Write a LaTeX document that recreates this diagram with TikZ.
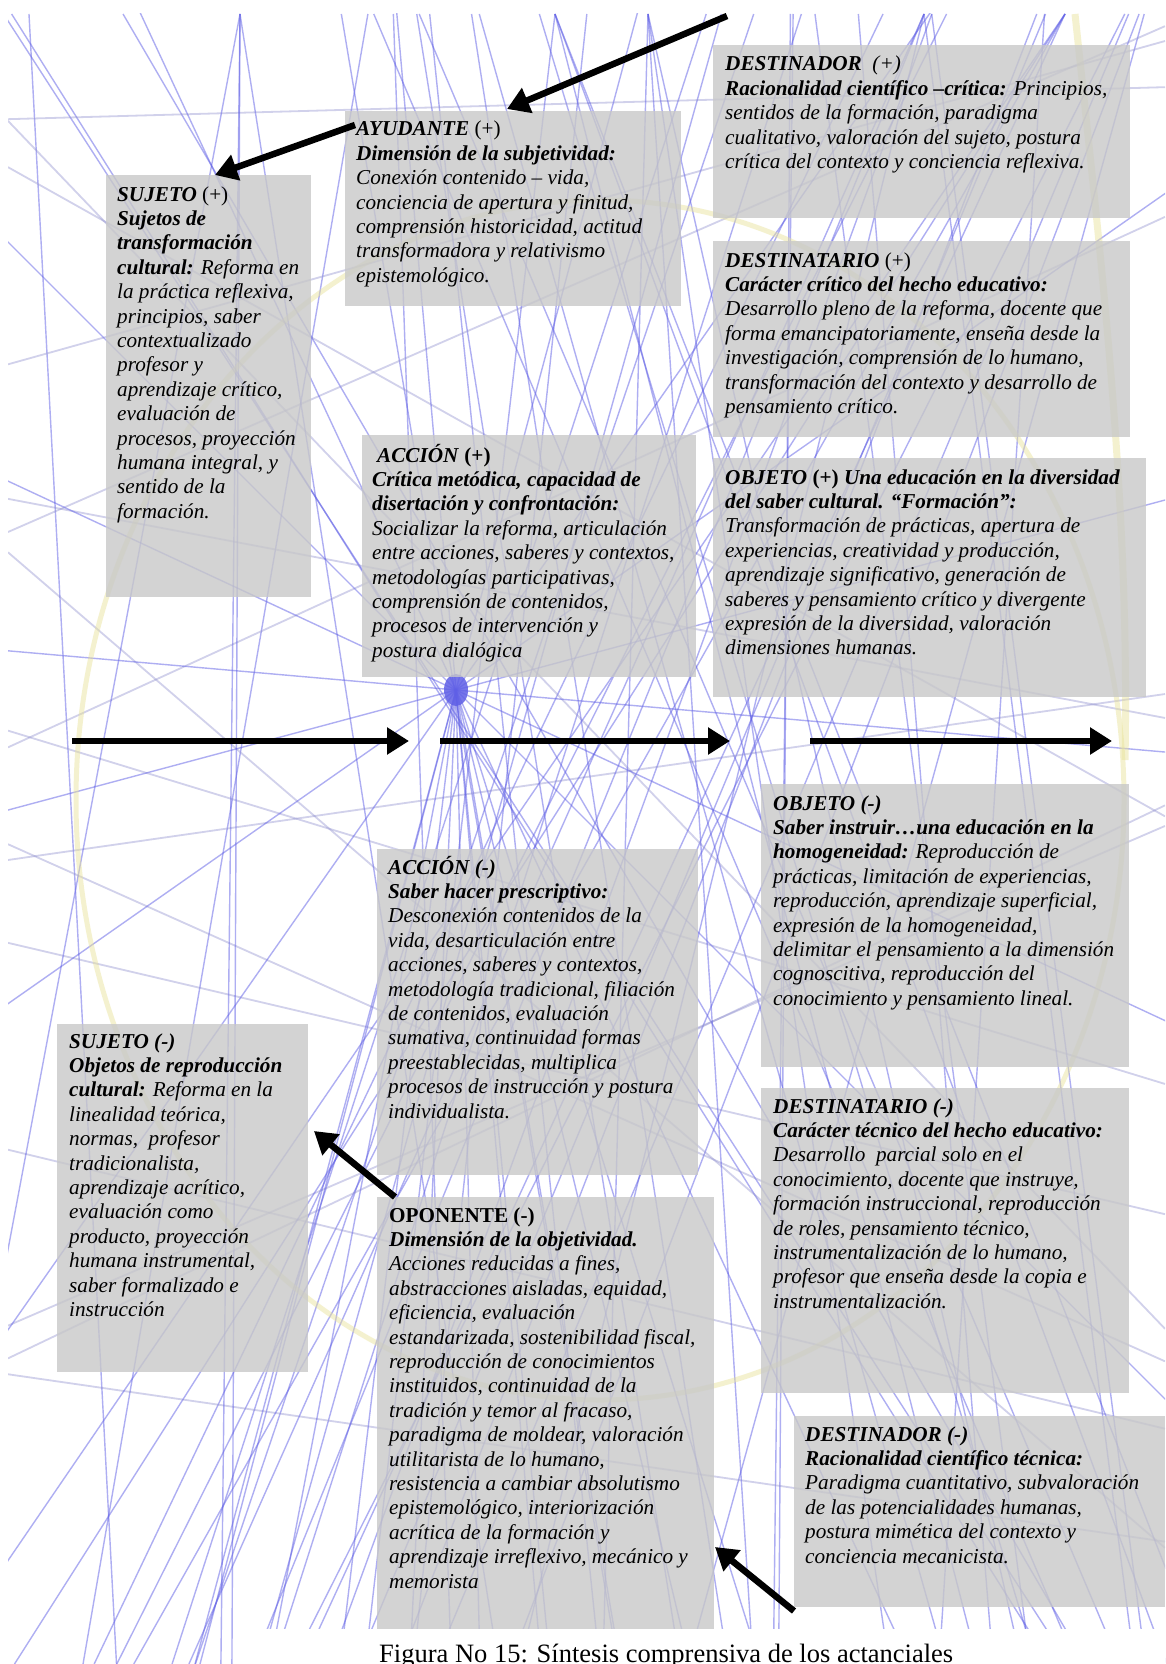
\documentclass[tikz,border=0pt]{standalone}
\usepackage{fontspec}
\setmainfont{Liberation Serif}
\usetikzlibrary{arrows.meta,calc}
\definecolor{webblue}{RGB}{95,95,230}
\definecolor{webgray}{RGB}{140,140,205}
\definecolor{boxgray}{RGB}{200,200,200}
\definecolor{halo}{RGB}{232,226,150}
\newcommand{\bi}[1]{\textbf{\textit{#1}}}
% stacked lines whose reference point is the first baseline
\newcommand{\stackedlines}[1]{\begin{tabular}[t]{@{}l@{}}#1\end{tabular}}

\begin{document}
\begin{tikzpicture}[x=1pt,y=-1pt,
  web/.style={webblue, line width=1.4pt, opacity=0.5},
  webfaint/.style={webgray, line width=1.8pt, opacity=0.4},
  panel/.style={fill=boxgray, fill opacity=0.8, draw=none, inner sep=0pt, anchor=north west},
  boxtext/.style={anchor=base west, inner sep=0pt,
    font=\fontsize{21.2}{24.4}\selectfont\itshape, text=black},
  bigarrow/.style={line width=6.5pt, -{Triangle[length=22pt,width=26pt]}},
]
\useasboundingbox (0,0) rectangle (1165,1664);
\fill[white] (0,0) rectangle (1165,1664);

% background web of thin lines
\begin{scope}
  \clip (8,14) rectangle (1165,1664);
  \pgfmathsetseed{4711}
  \foreach \i in {1,...,34}{
    \pgfmathsetmacro{\ax}{rnd*1165}
    \pgfmathsetmacro{\bx}{rnd*1165}
    \draw[web] (\ax,14) -- (\bx,1664);
  }
  \foreach \i in {1,...,16}{
    \pgfmathsetmacro{\ay}{rnd*1664}
    \pgfmathsetmacro{\by}{rnd*1664}
    \draw[webfaint] (8,\ay) -- (1165,\by);
  }
  \foreach \tx in {240,555,648,924,1065}{
    \foreach \j in {1,...,4}{
      \pgfmathsetmacro{\bx}{rnd*1400-120}
      \draw[web] (\tx,14) -- (\bx,1664);
    }
  }
  % burst of rays
  \foreach \a in {5,25,...,345}
    \draw[web] (456,690) -- ++(\a:2000);
  \foreach \bx in {200,270,...,760}
    \draw[web] (456,690) -- (\bx,1664);
  \fill[webblue, opacity=0.85] (456,690) ellipse [x radius=12, y radius=16];
  % pale yellow ring
  \draw[halo, line width=5pt, opacity=0.45] (600,800) ellipse [x radius=524, y radius=600];
  \draw[halo, line width=7pt, opacity=0.45] (1075,14) .. controls (1100,250) and (1130,500) .. (1125,760);
\end{scope}

% panels
\node[panel, minimum width=417pt, minimum height=173pt] (destp) at (713,45) {};
\node[panel, minimum width=336pt, minimum height=195pt] (ayud) at (345,111) {};
\node[panel, minimum width=205pt, minimum height=422pt] (sujp) at (106,175) {};
\node[panel, minimum width=417pt, minimum height=196pt] (destap) at (713,241) {};
\node[panel, minimum width=334pt, minimum height=242pt] (accp) at (362,435) {};
\node[panel, minimum width=433pt, minimum height=239pt] (objp) at (713,458) {};
\node[panel, minimum width=368pt, minimum height=283pt] (objm) at (761,784) {};
\node[panel, minimum width=321pt, minimum height=326pt] (accm) at (377,849) {};
\node[panel, minimum width=251pt, minimum height=348pt] (sujm) at (57,1024) {};
\node[panel, minimum width=368pt, minimum height=305pt] (destam) at (761,1088) {};
\node[panel, minimum width=337pt, minimum height=432pt] (opon) at (377,1197) {};
\node[panel, minimum width=371pt, minimum height=191pt] (destm) at (794,1416) {};

% panel texts
\node[boxtext] (destpt) at ($(destp.north west)+(12,26)$) {\stackedlines{\bi{DESTINADOR}\ \ (+)\\
\bi{Racionalidad científico –crítica:} Principios,\\
sentidos de la formación, paradigma\\
cualitativo, valoración del sujeto, postura\\
crítica del contexto y conciencia reflexiva.}};

\node[boxtext] (ayudt) at ($(ayud.north west)+(11,25)$) {\stackedlines{\bi{AYUDANTE} \textup{(+)}\\
\bi{Dimensión de la subjetividad:}\\
Conexión contenido – vida,\\
conciencia de apertura y finitud,\\
comprensión historicidad, actitud\\
transformadora y relativismo\\
epistemológico.}};

\node[boxtext] (sujpt) at ($(sujp.north west)+(11,26)$) {\stackedlines{\bi{SUJETO} \textup{(+)}\\
\bi{Sujetos de}\\
\bi{transformación}\\
\bi{cultural:} Reforma en\\
la práctica reflexiva,\\
principios, saber\\
contextualizado\\
profesor y\\
aprendizaje crítico,\\
evaluación de\\
procesos, proyección\\
humana integral, y\\
sentido de la\\
formación.}};

\node[boxtext] (destapt) at ($(destap.north west)+(12,26)$) {\stackedlines{\bi{DESTINATARIO} \textup{(+)}\\
\bi{Carácter crítico del hecho educativo:}\\
Desarrollo pleno de la reforma, docente que\\
forma emancipatoriamente, enseña desde la\\
investigación, comprensión de lo humano,\\
transformación del contexto y desarrollo de\\
pensamiento crítico.}};

\node[boxtext] (accpt) at ($(accp.north west)+(10,27)$) {\stackedlines{\hspace{5pt}\bi{ACCIÓN} \textup{\textbf{(+)}}\\
\bi{Crítica metódica, capacidad de}\\
\bi{disertación y confrontación:}\\
Socializar la reforma, articulación\\
entre acciones, saberes y contextos,\\
metodologías participativas,\\
comprensión de contenidos,\\
procesos de intervención y\\
postura dialógica}};

\node[boxtext] (objpt) at ($(objp.north west)+(12,26)$) {\stackedlines{\bi{OBJETO} \textup{\textbf{(+)}} \bi{Una educación en la diversidad}\\
\bi{del saber cultural. “Formación”:}\\
Transformación de prácticas, apertura de\\
experiencias, creatividad y producción,\\
aprendizaje significativo, generación de\\
saberes y pensamiento crítico y divergente\\
expresión de la diversidad, valoración\\
dimensiones humanas.}};

\node[boxtext] (objmt) at ($(objm.north west)+(12,26)$) {\stackedlines{\bi{OBJETO (-)}\\
\bi{Saber instruir…una educación en la}\\
\bi{homogeneidad:} Reproducción de\\
prácticas, limitación de experiencias,\\
reproducción, aprendizaje superficial,\\
expresión de la homogeneidad,\\
delimitar el pensamiento a la dimensión\\
cognoscitiva, reproducción del\\
conocimiento y pensamiento lineal.}};

\node[boxtext] (accmt) at ($(accm.north west)+(11,25)$) {\stackedlines{\bi{ACCIÓN (-)}\\
\bi{Saber hacer prescriptivo:}\\
Desconexión contenidos de la\\
vida, desarticulación entre\\
acciones, saberes y contextos,\\
metodología tradicional, filiación\\
de contenidos, evaluación\\
sumativa, continuidad formas\\
preestablecidas, multiplica\\
procesos de instrucción y postura\\
individualista.}};

\node[boxtext] (sujmt) at ($(sujm.north west)+(12,24)$) {\stackedlines{\bi{SUJETO (-)}\\
\bi{Objetos de reproducción}\\
\bi{cultural:} Reforma en la\\
linealidad teórica,\\
normas,\ \ profesor\\
tradicionalista,\\
aprendizaje acrítico,\\
evaluación como\\
producto, proyección\\
humana instrumental,\\
saber formalizado e\\
instrucción}};

\node[boxtext] (destamt) at ($(destam.north west)+(12,25)$) {\stackedlines{\bi{DESTINATARIO (-)}\\
\bi{Carácter técnico del hecho educativo:}\\
Desarrollo\ \ parcial solo en el\\
conocimiento, docente que instruye,\\
formación instruccional, reproducción\\
de roles, pensamiento técnico,\\
instrumentalización de lo humano,\\
profesor que enseña desde la copia e\\
instrumentalización.}};

\node[boxtext] (opont) at ($(opon.north west)+(12,25)$) {\stackedlines{\textup{\textbf{OPONENTE (-)}}\\
\bi{Dimensión de la objetividad.}\\
Acciones reducidas a fines,\\
abstracciones aisladas, equidad,\\
eficiencia, evaluación\\
estandarizada, sostenibilidad fiscal,\\
reproducción de conocimientos\\
instituidos, continuidad de la\\
tradición y temor al fracaso,\\
paradigma de moldear, valoración\\
utilitarista de lo humano,\\
resistencia a cambiar absolutismo\\
epistemológico, interiorización\\
acrítica de la formación y\\
aprendizaje irreflexivo, mecánico y\\
memorista}};

\node[boxtext] (destmt) at ($(destm.north west)+(11,25)$) {\stackedlines{\bi{DESTINADOR (-)}\\
\bi{Racionalidad científico técnica:}\\
Paradigma cuantitativo, subvaloración\\
de las potencialidades humanas,\\
postura mimética del contexto y\\
conciencia mecanicista.}};

% arrow end points
\coordinate (d1s) at (727,16);   \coordinate (d1e) at (507,109);
\coordinate (d2s) at (355,125);  \coordinate (d2e) at (215,175);
\coordinate (d3s) at (395,1197); \coordinate (d3e) at (314,1131);
\coordinate (d4s) at (794,1611); \coordinate (d4e) at (715,1547);
\coordinate (h1s) at (72,741);   \coordinate (h1e) at (409,741);
\coordinate (h2s) at (440,741);  \coordinate (h2e) at (730,741);
\coordinate (h3s) at (810,741);  \coordinate (h3e) at (1112,741);

\draw[bigarrow] (d1s) -- (d1e);
\draw[bigarrow] (d2s) -- (d2e);
\draw[bigarrow] (d3s) -- (d3e);
\draw[bigarrow] (d4s) -- (d4e);
\draw[bigarrow] (h1s) -- (h1e);
\draw[bigarrow] (h2s) -- (h2e);
\draw[bigarrow] (h3s) -- (h3e);

% caption
\node[fill=white, inner sep=0pt, anchor=north west, minimum width=921pt, minimum height=40pt] (capbg) at (244,1629) {};
\node[anchor=base west, inner sep=0pt, font=\fontsize{26.5}{30}\selectfont] (cap) at (379,1662) {Figura No 15: Síntesis comprensiva de los actanciales};
\end{tikzpicture}
\end{document}
